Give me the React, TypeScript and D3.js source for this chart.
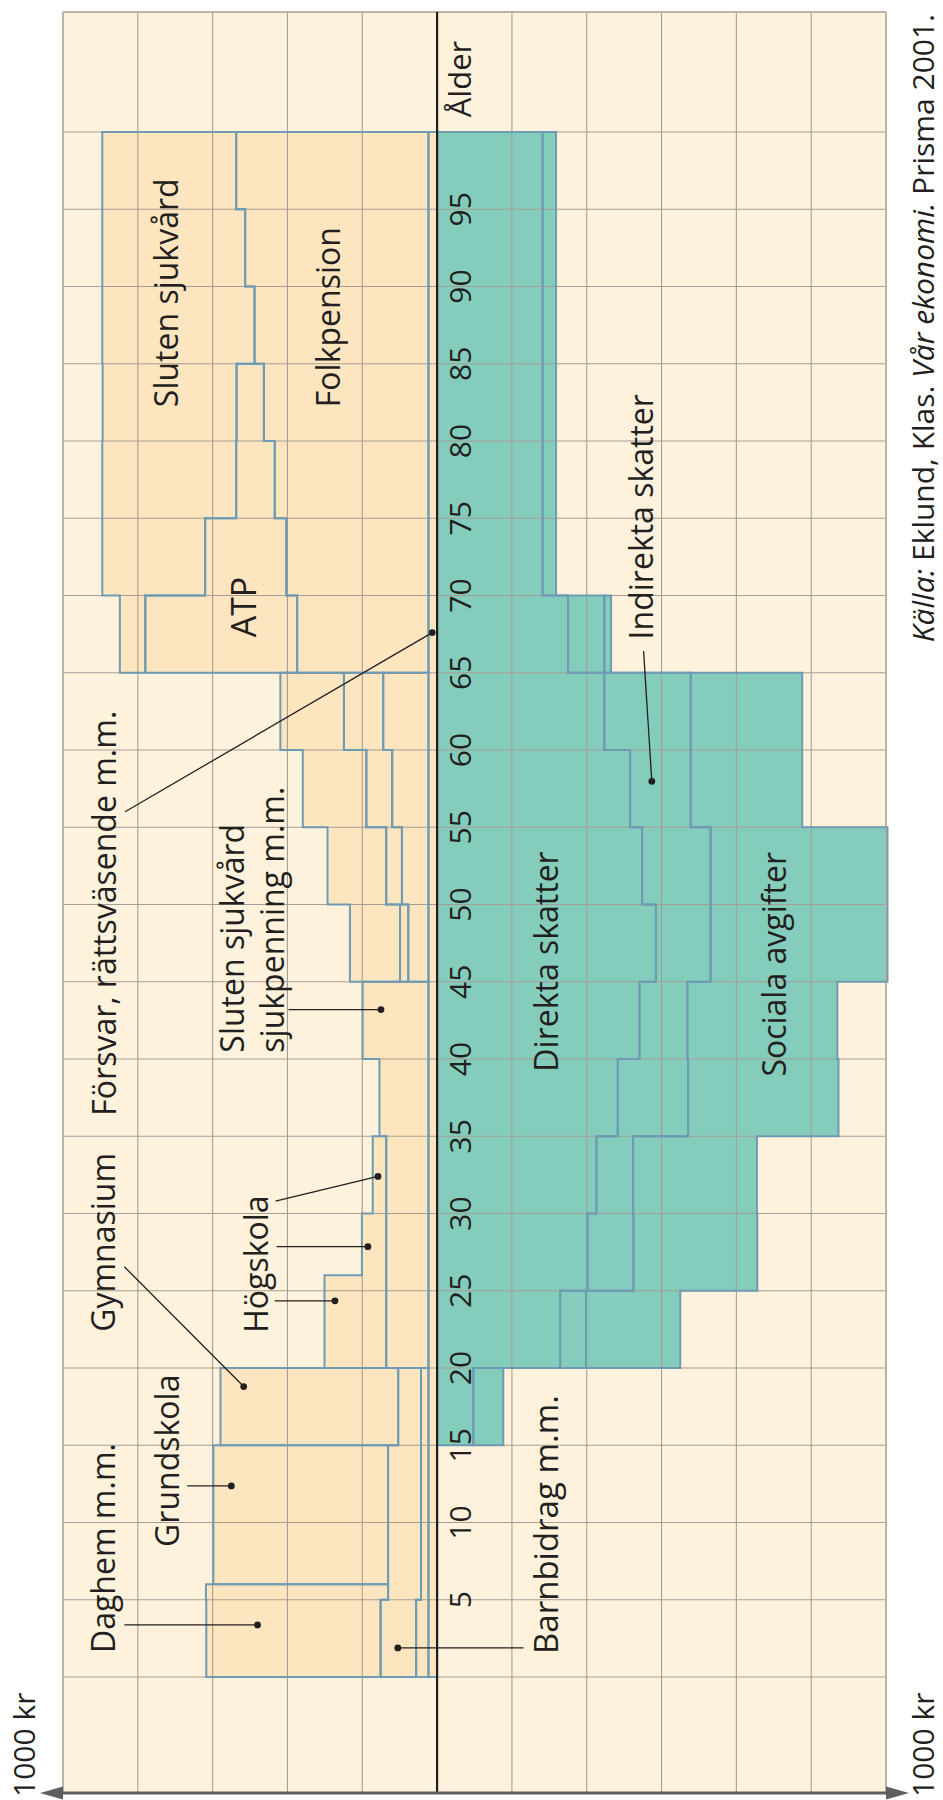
import React from 'react';
import * as d3 from 'd3';

// [fromAge, toAge, value in 1000 kr per person and year]
type Seg = [number, number, number];

// ---- Benefits (left side), ordered from the age axis outwards ----
const forsvar: Seg[] = [[0, 100, 2.3]];
const barnsjukvard: Seg[] = [[0, 5, 3.3], [5, 20, 2.0]];
const barnbidrag: Seg[] = [[0, 5, 9.5], [5, 15, 8.8], [15, 20, 6.1]];
const daghem: Seg[] = [[0, 5, 46.6], [5, 6, 48.7]];
const grundskola: Seg[] = [[6, 15, 46.7]];
const gymnasium: Seg[] = [[15, 20, 47.5]];
const sjukvardSjukpenning: Seg[] = [[20, 35, 11.3], [35, 40, 13.1], [40, 45, 17.6]];
const hogskola: Seg[] = [[20, 26, 16.5], [26, 30, 6.5], [30, 35, 3.6]];
const vuxenA: Seg[] = [[45, 50, 5.4], [50, 55, 7.1], [55, 60, 9.7], [60, 65, 12.1]];
const vuxenB: Seg[] = [[45, 50, 2.2], [50, 55, 4.2], [55, 60, 6.9], [60, 65, 10.5]];
const vuxenC: Seg[] = [[45, 50, 13.4], [50, 55, 15.7], [55, 60, 17.0], [60, 65, 17.0]];
const folkpension: Seg[] = [[65, 70, 35.1], [70, 75, 38.0], [75, 80, 41.1], [80, 85, 44.0], [85, 90, 46.5], [90, 95, 49.0], [95, 100, 51.4]];
const atp: Seg[] = [[65, 70, 40.6], [70, 75, 21.7], [75, 80, 10.3], [80, 85, 7.3]];
const slutenSjukvard: Seg[] = [[65, 70, 6.8], [70, 75, 27.5], [75, 80, 35.8], [80, 85, 35.8], [85, 90, 40.7], [90, 95, 38.2], [95, 100, 35.8]];

// ---- Taxes (right side), ordered from the age axis outwards ----
const direktaSkatter: Seg[] = [[15, 20, 9.7], [20, 25, 32.9], [25, 30, 40.2], [30, 35, 42.6], [35, 40, 48.3], [40, 45, 54.1], [45, 50, 58.5], [50, 55, 54.8], [55, 60, 51.6], [60, 65, 44.7], [65, 70, 35.0], [70, 100, 28.2]];
const indirektaSkatter: Seg[] = [[15, 20, 8.0], [20, 25, 6.9], [25, 30, 12.3], [30, 35, 9.8], [35, 40, 18.8], [40, 45, 12.8], [45, 50, 14.6], [50, 55, 18.3], [55, 60, 16.2], [60, 65, 23.1], [65, 70, 9.7], [70, 100, 3.6]];
const socialaAvgifter: Seg[] = [[20, 25, 25.2], [25, 30, 33.1], [30, 35, 33.1], [35, 40, 40.2], [40, 45, 40.1], [45, 50, 47.3], [50, 55, 47.3], [55, 60, 29.8], [60, 65, 29.8], [65, 70, 1.8]];

const benefitLayers: Seg[][] = [forsvar, barnsjukvard, barnbidrag, daghem, grundskola, gymnasium, sjukvardSjukpenning, hogskola, vuxenA, vuxenB, vuxenC, folkpension, atp, slutenSjukvard];
const taxLayers: Seg[][] = [direktaSkatter, indirektaSkatter, socialaAvgifter];

const ageTicks = d3.range(5, 100, 5);
const gridAges = d3.range(0, 101, 5);
const gridValues = d3.range(-80, 120, 20);

// annotations: [value, age]
type Ann = { text: string; v: number; a: number; size?: number };
const labels: Ann[] = [
  { text: 'Daghem m.m.', v: -86.1, a: 1.55 },
  { text: 'Grundskola', v: -68.9, a: 8.42 },
  { text: 'Gymnasium', v: -86.1, a: 22.34 },
  { text: 'Högskola', v: -45.3, a: 22.28 },
  { text: 'Försvar,  rättsväsende m.m.', v: -85.8, a: 36.33 },
  { text: 'Sluten sjukvård', v: -51.7, a: 40.41 },
  { text: 'sjukpenning m.m.', v: -41.0, a: 40.41 },
  { text: 'Barnbidrag m.m.', v: 32.4, a: 1.49, size: 33 },
  { text: 'Sluten sjukvård', v: -69.2, a: 82.19 },
  { text: 'Folkpension', v: -26.0, a: 82.19 },
  { text: 'ATP', v: -48.5, a: 67.29, size: 34 },
  { text: 'Indirekta skatter', v: 57.6, a: 67.16 },
  { text: 'Direkta skatter', v: 32.2, a: 39.18 },
  { text: 'Sociala avgifter', v: 93.3, a: 38.86 },
];
// leaders: [fromValue, fromAge, dotValue, dotAge]
const leaders: [number, number, number, number][] = [
  [-83.6, 3.37, -48.0, 3.37],
  [-66.8, 12.37, -55.0, 12.37],
  [-83.6, 26.55, -51.7, 18.8],
  [-43.4, 24.35, -27.3, 24.35],
  [-42.9, 27.85, -18.5, 27.85],
  [-43.2, 30.8, -15.8, 32.4],
  [-83.4, 56.0, -1.3, 67.6],
  [-39.7, 43.2, -15.0, 43.2],
  [23.1, 1.88, -10.5, 1.88],
  [55.2, 66.4, 57.4, 57.97],
];

const W = 943;
const H = 1800;
const x = d3.scaleLinear().domain([-100, 120]).range([63, 886]);
const y = d3.scaleLinear().domain([0, 100]).range([1677, 132]);
const AGE_TOP = 107.77;
const AGE_BOTTOM = -7.5;

type Piece = { a0: number; a1: number; base: number; top: number };

function stackLayers(layers: Seg[][]): Piece[][][] {
  const breaks = Array.from(new Set(layers.flat().flatMap((s) => [s[0], s[1]]))).sort((p, q) => p - q);
  const valueAt = (layer: Seg[], a: number) => {
    const s = layer.find((s) => a > s[0] && a < s[1]);
    return s ? s[2] : 0;
  };
  return layers.map((layer, li) => {
    const pieces: Piece[] = [];
    for (let i = 0; i < breaks.length - 1; i++) {
      const a0 = breaks[i];
      const a1 = breaks[i + 1];
      const mid = (a0 + a1) / 2;
      const v = valueAt(layer, mid);
      if (v <= 0) continue;
      let base = 0;
      for (let k = 0; k < li; k++) base += valueAt(layers[k], mid);
      pieces.push({ a0, a1, base, top: base + v });
    }
    const runs: Piece[][] = [];
    pieces.forEach((p) => {
      const last = runs[runs.length - 1];
      if (last && last[last.length - 1].a1 === p.a0) last.push(p);
      else runs.push([p]);
    });
    return runs;
  });
}

function runPath(run: Piece[], sign: number): string {
  const pts: [number, number][] = [];
  run.forEach((p) => {
    pts.push([p.top, p.a0], [p.top, p.a1]);
  });
  [...run].reverse().forEach((p) => {
    pts.push([p.base, p.a1], [p.base, p.a0]);
  });
  const line = d3
    .line<[number, number]>()
    .x((d) => x(sign * d[0]))
    .y((d) => y(d[1]));
  return (line(pts) || '') + 'Z';
}

const FONT = "'Open Sans', 'Noto Sans', 'DejaVu Sans', sans-serif";
const INK = '#231f20';

function RotText({ px, py, anchor = 'start', size = 32, children }: any) {
  return (
    <text
      transform={`translate(${px},${py}) rotate(-90)`}
      textAnchor={anchor}
      fontSize={size}
      fontFamily={FONT}
      fill={INK}
    >
      {children}
    </text>
  );
}

export default function App() {
  const benefitRuns = stackLayers(benefitLayers);
  const taxRuns = stackLayers(taxLayers);
  const leftPaths = benefitRuns.flatMap((runs) => runs.map((r) => runPath(r, -1)));
  const rightPaths = taxRuns.flatMap((runs) => runs.map((r) => runPath(r, 1)));

  const yTop = y(AGE_TOP);
  const yBot = y(AGE_BOTTOM);
  const xL = x(-100);
  const xR = x(120);
  const x0 = x(0);

  const fillOrange = '#fde5bf';
  const fillTeal = '#84cdbd';
  const stroke = '#6f9bb2';
  const grid = '#a69e94';

  return (
    <div style={{ position: 'absolute', left: 0, top: 0 }}>
      <svg width={W} height={H} viewBox={`0 0 ${W} ${H}`} style={{ display: 'block', background: '#fff' }}>
        <rect x={xL} y={yTop} width={xR - xL} height={yBot - yTop} fill="#fef2dd" />
        {leftPaths.map((d, i) => (
          <path key={'lf' + i} d={d} fill={fillOrange} />
        ))}
        {rightPaths.map((d, i) => (
          <path key={'rf' + i} d={d} fill={fillTeal} />
        ))}
        {/* grid */}
        {gridValues.map((v) => (
          <line key={'gv' + v} x1={x(v)} x2={x(v)} y1={yTop} y2={yBot} stroke={grid} strokeWidth={1.1} />
        ))}
        {gridAges.map((a) => (
          <line key={'ga' + a} x1={xL} x2={xR} y1={y(a)} y2={y(a)} stroke={grid} strokeWidth={1.1} />
        ))}
        {/* frame */}
        <line x1={xL} x2={xR} y1={yTop} y2={yTop} stroke="#bdb3a5" strokeWidth={2} />
        <line x1={xL} x2={xL} y1={yTop} y2={yBot} stroke="#bdb3a5" strokeWidth={2} />
        <line x1={xR} x2={xR} y1={yTop} y2={yBot} stroke="#bdb3a5" strokeWidth={2} />
        {/* outlines */}
        {leftPaths.map((d, i) => (
          <path key={'ls' + i} d={d} fill="none" stroke={stroke} strokeWidth={2} strokeLinejoin="miter" />
        ))}
        {rightPaths.map((d, i) => (
          <path key={'rs' + i} d={d} fill="none" stroke={stroke} strokeWidth={2} strokeLinejoin="miter" />
        ))}
        {/* age axis */}
        <line x1={x0} x2={x0} y1={yTop} y2={yBot} stroke="#1e1e1e" strokeWidth={2.2} />
        {/* bottom double arrow */}
        <line x1={xL} x2={xR} y1={yBot} y2={yBot} stroke="#5e5e5e" strokeWidth={3} />
        <path d={`M${xL - 23},${yBot} L${xL},${yBot - 6.5} L${xL},${yBot + 6.5} Z`} fill="#5e5e5e" />
        <path d={`M${xR + 23},${yBot} L${xR},${yBot - 6.5} L${xR},${yBot + 6.5} Z`} fill="#5e5e5e" />

        {/* age tick labels */}
        {ageTicks.map((a) => (
          <RotText key={'t' + a} px={x(9.0)} py={y(a)} anchor="middle" size={30}>
            {a}
          </RotText>
        ))}
        <RotText px={x(9.0)} py={79} anchor="middle" size={31}>
          Ålder
        </RotText>

        {/* leaders */}
        {leaders.map((l, i) => (
          <g key={'ld' + i}>
            <line x1={x(l[0])} y1={y(l[1])} x2={x(l[2])} y2={y(l[3])} stroke={INK} strokeWidth={1.3} />
            <circle cx={x(l[2])} cy={y(l[3])} r={3.4} fill={INK} />
          </g>
        ))}

        {/* labels */}
        {labels.map((l, i) => (
          <RotText key={'lb' + i} px={x(l.v)} py={y(l.a)} size={l.size || 32}>
            {l.text}
          </RotText>
        ))}

        {/* unit labels */}
        <RotText px={35} py={1797} size={30}>
          1000 kr
        </RotText>
        <RotText px={934} py={1797} size={30}>
          1000 kr
        </RotText>

        {/* source */}
        <text transform={`translate(934,14) rotate(-90)`} textAnchor="end" fontSize={30} fontFamily={FONT} fill={INK}>
          <tspan fontStyle="italic">Källa:</tspan>
          <tspan> Eklund, Klas. </tspan>
          <tspan fontStyle="italic">Vår ekonomi.</tspan>
          <tspan> Prisma 2001.</tspan>
        </text>
      </svg>
    </div>
  );
}
